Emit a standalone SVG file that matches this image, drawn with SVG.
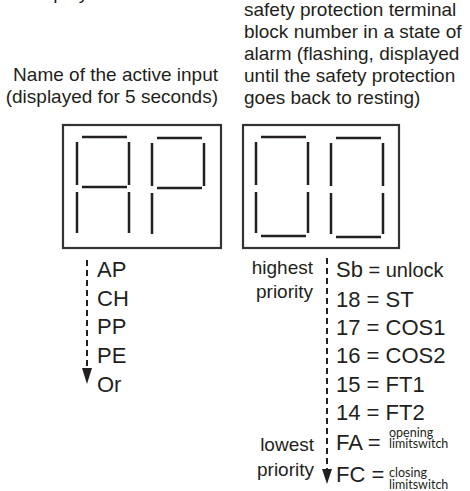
<svg xmlns="http://www.w3.org/2000/svg" width="470" height="491" viewBox="0 0 470 491">
<style>
text{font-family:"Liberation Sans",Arial,sans-serif;fill:#231f20}
.h{font-size:19px}
.l{font-size:22px}
.s{font-family:Lato,"Open Sans",sans-serif;font-size:12.5px}
.box{fill:none;stroke:#333;stroke-width:2.2}
.seg{stroke:#231f20;stroke-width:2.5;fill:none}
.dash{stroke:#231f20;stroke-width:2;stroke-dasharray:6 4;fill:none}
</style>
<defs>
<g id="sA"><line x1="5" y1="0" x2="50" y2="0"/></g>
<g id="sF"><line x1="0" y1="5" x2="0" y2="48"/></g>
<g id="sB"><line x1="52" y1="5" x2="52" y2="48"/></g>
<g id="sG"><line x1="5" y1="50" x2="50" y2="50"/></g>
<g id="sE"><line x1="0" y1="55" x2="0" y2="96"/></g>
<g id="sC"><line x1="52" y1="55" x2="52" y2="96"/></g>
<g id="sD"><line x1="5" y1="99" x2="50" y2="99"/></g>
</defs>

<text class="h" x="29" y="-1">display</text>

<g id="caption-left" text-anchor="end">
<text class="h" x="218" y="81">Name of the active input</text>
<text class="h" x="218" y="103">(displayed for 5 seconds)</text>
</g>

<g id="caption-right">
<text class="h" x="244" y="16">safety protection terminal</text>
<text class="h" x="244" y="38">block number in a state of</text>
<text class="h" x="244" y="60">alarm (flashing, displayed</text>
<text class="h" x="244" y="82">until the safety protection</text>
<text class="h" x="244" y="104">goes back to resting)</text>
</g>

<g id="display-left">
<rect class="box" x="63" y="125" width="158" height="123"/>
<g class="seg" transform="translate(77,137)">
<use href="#sA"/><use href="#sF"/><use href="#sB"/><use href="#sG"/><use href="#sE"/><use href="#sC"/>
</g>
<g class="seg" transform="translate(152,138)">
<use href="#sA"/><use href="#sF"/><use href="#sB"/><use href="#sG"/><use href="#sE"/>
</g>
</g>

<g id="display-right">
<rect class="box" x="243" y="125" width="156" height="123"/>
<g class="seg" transform="translate(256,137)">
<use href="#sA"/><use href="#sF"/><use href="#sB"/><use href="#sE"/><use href="#sC"/><use href="#sD"/>
</g>
<g class="seg" transform="translate(331,138)">
<use href="#sA"/><use href="#sF"/><use href="#sB"/><use href="#sE"/><use href="#sC"/><use href="#sD"/>
</g>
</g>

<g id="connectors">
<line class="dash" x1="87" y1="260" x2="87" y2="370"/>
<path d="M82,368 L92,368 L87,384 Z" fill="#231f20"/>
<line class="dash" x1="327" y1="258" x2="327" y2="470"/>
<path d="M322,469 L332,469 L327,484 Z" fill="#231f20"/>
</g>

<g id="list-left">
<text class="l" x="97" y="277">AP</text>
<text class="l" x="97" y="306">CH</text>
<text class="l" x="97" y="334">PP</text>
<text class="l" x="97" y="363">PE</text>
<text class="l" x="97" y="392">Or</text>
</g>

<g id="priority-labels" text-anchor="end">
<text class="h" x="313" y="274">highest</text>
<text class="h" x="313" y="298">priority</text>
<text class="h" x="314" y="451">lowest</text>
<text class="h" x="314" y="476">priority</text>
</g>

<g id="list-right">
<text class="l" x="336" y="277">Sb<tspan font-size="20"> = unlock</tspan></text>
<text class="l" x="336" y="307">18 = ST</text>
<text class="l" x="336" y="335">17 = COS1</text>
<text class="l" x="336" y="363">16 = COS2</text>
<text class="l" x="336" y="392">15 = FT1</text>
<text class="l" x="336" y="420">14 = FT2</text>
<text class="l" x="336" y="450">FA =<tspan class="s" x="389" y="437">opening</tspan><tspan class="s" x="389" y="448">limitswitch</tspan></text>
<text class="l" x="336" y="482">FC =<tspan class="s" x="389" y="477">closing</tspan><tspan class="s" x="389" y="489">limitswitch</tspan></text>
</g>
</svg>
